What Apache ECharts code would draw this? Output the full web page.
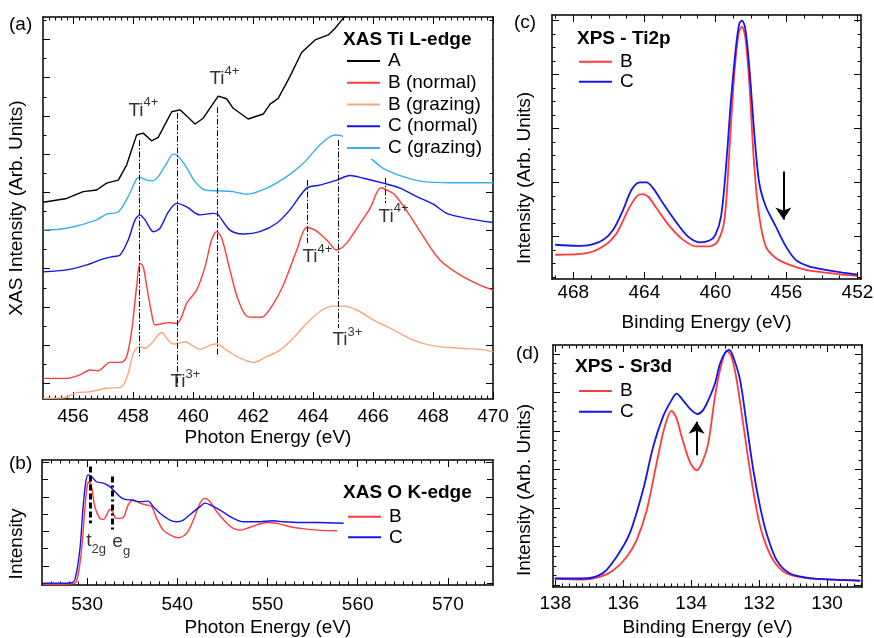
<!DOCTYPE html>
<html>
<head>
<meta charset="utf-8">
<script src="https://cdn.jsdelivr.net/npm/echarts@6/dist/echarts.min.js"></script>
<style>
  html, body { margin: 0; padding: 0; background: #fff; }
  #main { width: 874px; height: 638px; }
</style>
</head>
<body>
<div id="main"></div>
<script>
const FONT = '"Liberation Sans", Arial, Helvetica, sans-serif';

// ---------- (a) XAS Ti L-edge: [photon energy (eV), intensity (arb., offset)] ----------
const tiA = [[455.01,5.15],[455.79,5.25],[456.34,5.43],[456.79,5.47],[457.12,5.65],[457.51,5.73],
  [457.79,6.13],[458.12,6.91],[458.34,6.96],[458.62,6.76],[458.84,6.85],[459.29,7.52],[459.57,7.57],
  [460.07,7.20],[460.34,7.35],[460.84,7.93],[461.12,7.86],[461.34,7.61],[461.84,7.33],[462.34,7.46],
  [462.57,7.72],[462.84,7.87],[463.23,8.44],[463.62,9.07],[464.07,9.40],[464.51,9.53],[464.73,9.70],
  [465.01,9.97],[465.23,10.2]];
const tiBNormal = [[455.01,0.54],[455.79,0.54],[456.23,0.63],[456.57,0.76],[456.84,0.74],[457.23,0.96],
  [457.62,0.96],[457.79,1.11],[457.96,1.81],[458.12,2.94],[458.23,3.55],[458.34,3.46],[458.46,2.94],
  [458.62,2.24],[458.73,1.94],[458.9,1.96],[459.18,2.00],[459.46,1.98],[459.62,2.15],[459.79,2.51],
  [460.12,2.85],[460.4,3.46],[460.62,4.16],[460.79,4.38],[460.96,4.21],[461.23,3.38],[461.51,2.59],
  [461.84,2.15],[462.29,2.14],[462.62,2.42],[463.01,2.98],[463.46,3.90],[463.79,4.49],[464.07,4.42],
  [464.46,4.16],[464.79,3.90],[465.12,4.08],[465.57,4.60],[465.9,4.99],[466.26,5.53],[466.46,5.47],
  [466.73,5.34],[467.18,4.86],[467.68,4.25],[468.23,3.64],[468.9,3.25],[469.57,2.98],[470.01,2.85]];
const tiBGrazing = [[455.01,0.02],[455.68,0.03],[456.12,0.16],[456.57,0.19],[457.12,0.28],[457.62,0.32],
  [457.84,0.67],[458.01,1.20],[458.23,1.37],[458.4,1.33],[458.62,1.46],[458.79,1.63],[458.96,1.74],
  [459.12,1.59],[459.34,1.44],[459.57,1.47],[459.73,1.50],[459.96,1.41],[460.23,1.30],[460.57,1.41],
  [460.79,1.44],[461.12,1.28],[461.57,1.07],[462.01,0.96],[462.46,1.11],[462.9,1.28],[463.34,1.59],
  [463.79,1.98],[464.23,2.29],[464.68,2.43],[465.01,2.43],[465.46,2.33],[466.01,2.07],[466.68,1.81],
  [467.34,1.54],[468.01,1.39],[468.9,1.33],[469.57,1.30],[470.01,1.24]];
const tiCNormal = [[455.01,3.33],[455.79,3.38],[456.46,3.51],[456.9,3.64],[457.34,3.73],[457.57,3.77],
  [457.84,4.16],[458.07,4.69],[458.23,4.82],[458.4,4.69],[458.68,4.38],[458.9,4.47],[459.18,4.90],
  [459.46,5.12],[459.79,5.03],[460.23,4.82],[460.68,4.86],[460.84,4.82],[461.23,4.42],[461.68,4.32],
  [462.23,4.38],[462.79,4.60],[463.23,4.95],[463.79,5.52],[464.23,5.60],[464.79,5.73],[465.23,5.85],
  [465.68,5.78],[466.34,5.65],[466.9,5.52],[467.46,5.30],[468.01,5.10],[468.46,4.86],[469.12,4.73],
  [470.01,4.62]];
const tiCGrazing = [[455.01,4.42],[455.79,4.47],[456.79,4.69],[457.12,4.84],[457.51,4.90],[457.84,5.30],
  [458.12,5.76],[458.23,5.80],[458.46,5.73],[458.64,5.71],[458.84,5.82],[459.12,6.17],[459.34,6.41],
  [459.46,6.39],[459.73,6.13],[460.07,5.69],[460.4,5.47],[460.79,5.45],[461.34,5.43],[461.79,5.36],
  [462.46,5.52],[463.12,5.82],[463.68,6.17],[464.23,6.65],[464.73,6.91],[464.96,6.89],[465.4,6.70],
  [465.96,6.28],[466.34,6.04],[467.01,5.82],[467.68,5.69],[468.57,5.66],[470.01,5.66]];
// peak guides: [energy, upper end, lower end]
const tiGuides = [[458.2,6.78,1.13],[459.46,7.49,0.32],[460.81,7.64,1.10],[463.8,5.73,4.08],
  [464.84,6.78,1.86],[466.42,5.79,5.13]];
const tiIons = [['4+',457.83,7.54],['4+',460.53,8.36],['4+',466.17,4.76],['4+',463.63,3.70],
  ['3+',464.63,1.53],['3+',459.23,0.43]];
const tiXLabels = [456,458,460,462,464,466,468,470];

// ---------- (b) XAS O K-edge ----------
const oB = [[525.11,0.02],[528.08,0.03],[528.82,0.10],[529.38,1.01],[529.74,2.17],[530.0,2.85],
  [530.22,2.99],[530.49,2.85],[530.86,2.27],[531.41,1.93],[531.86,1.90],[532.16,2.03],[532.52,2.19],
  [532.82,2.12],[533.19,1.93],[533.63,1.93],[534.08,1.98],[534.56,2.32],[535.11,2.46],[535.86,2.37],
  [536.6,2.32],[537.16,2.27],[537.71,1.93],[538.44,1.59],[539.19,1.45],[540.11,1.37],[541.04,1.50],
  [541.78,1.88],[542.52,2.37],[543.08,2.51],[543.63,2.41],[544.38,2.12],[545.49,1.79],[546.22,1.64],
  [546.97,1.59],[547.71,1.64],[548.82,1.74],[549.93,1.81],[551.04,1.79],[552.16,1.71],[553.63,1.64],
  [555.49,1.59],[557.71,1.57]];
const oC = [[525.11,0.05],[528.08,0.06],[528.63,0.14],[529.19,1.01],[529.56,2.27],[529.86,2.99],
  [530.11,3.19],[530.49,3.14],[531.04,2.99],[531.78,2.95],[532.52,2.85],[533.08,2.70],[533.63,2.56],
  [534.19,2.48],[534.93,2.46],[535.86,2.41],[536.78,2.43],[537.33,2.27],[538.08,2.08],[539.19,1.88],
  [539.93,1.83],[540.67,1.88],[541.6,2.08],[542.52,2.27],[543.08,2.37],[543.63,2.32],[544.74,2.17],
  [546.22,1.93],[547.33,1.83],[548.82,1.83],[550.67,1.86],[551.78,1.83],[553.63,1.81],[555.49,1.81],
  [558.44,1.79]];
const oXLabels = [530,540,550,560,570];

// ---------- (c) XPS Ti2p: [binding energy (eV), intensity] ----------
const ti2pB = [[469.02,0.90],[467.24,0.96],[466.31,1.21],[465.56,1.70],[464.91,2.57],[464.44,3.06],
  [464.16,3.15],[463.79,3.06],[463.32,2.63],[462.57,1.95],[461.83,1.46],[461.08,1.21],[460.33,1.21],
  [459.87,1.39],[459.49,2.20],[459.21,4.79],[458.93,7.63],[458.69,9.11],[458.5,9.36],[458.32,8.99],
  [458.09,7.26],[457.81,4.17],[457.53,2.32],[457.16,1.21],[456.6,0.78],[455.85,0.53],[454.91,0.34],
  [453.79,0.24],[452.86,0.16],[452.02,0.12]];
const ti2pC = [[469.02,1.27],[467.8,1.23],[467.05,1.27],[466.31,1.46],[465.75,1.83],[465.19,2.57],
  [464.72,3.31],[464.25,3.58],[463.88,3.58],[463.51,3.37],[462.95,2.81],[462.2,2.10],[461.55,1.58],
  [460.89,1.36],[460.33,1.43],[460.0,1.64],[459.68,2.32],[459.4,4.17],[459.12,6.64],[458.84,8.61],
  [458.65,9.48],[458.5,9.58],[458.32,9.30],[458.09,7.87],[457.81,5.41],[457.53,3.56],[457.16,2.69],
  [456.6,1.95],[456.03,1.21],[455.47,0.71],[454.73,0.47],[453.79,0.34],[452.86,0.24],[452.02,0.16]];
const ti2pArrow = [456.17, 3.99, 2.21];
const ti2pXLabels = [468,464,460,456,452];

// ---------- (d) XPS Sr3d ----------
const sr3dB = [[138.02,0.22],[137.19,0.19],[136.69,0.26],[136.3,0.43],[135.9,0.78],[135.61,1.21],
  [135.31,1.99],[135.02,3.21],[134.78,4.16],[134.58,4.57],[134.43,4.37],[134.28,3.90],[134.04,3.25],
  [133.84,3.03],[133.69,3.21],[133.5,3.72],[133.3,4.94],[133.15,5.63],[132.95,6.13],[132.81,5.97],
  [132.66,5.37],[132.47,4.24],[132.27,3.03],[132.07,1.99],[131.88,1.30],[131.58,0.69],[131.19,0.35],
  [130.6,0.23],[129.81,0.19],[129.02,0.17]];
const sr3dC = [[138.02,0.22],[137.19,0.22],[136.6,0.36],[136.2,0.78],[135.81,1.39],[135.42,2.51],
  [135.12,3.64],[134.83,4.42],[134.58,4.85],[134.43,5.02],[134.28,4.89],[134.04,4.63],[133.82,4.49],
  [133.65,4.59],[133.45,4.94],[133.3,5.28],[133.15,5.80],[133.0,6.08],[132.88,6.15],[132.76,5.97],
  [132.56,5.37],[132.37,4.24],[132.17,3.03],[131.97,2.08],[131.78,1.39],[131.48,0.69],[131.09,0.35],
  [130.5,0.23],[129.81,0.19],[129.02,0.16]];
const sr3dArrow = [133.84, 3.42, 4.29];
const sr3dXLabels = [138,136,134,132,130];

// ---------- colours ----------
const RED = '#ff3b3b', BLUE = '#1414f0', SKY = '#3aaeea', SALMON = '#f9a57c', BLACK = '#000';

// evenly spaced tick positions, leaving out the ones already taken by major ticks
function steps(from, to, step, skip) {
  const out = [];
  const n = Math.round((to - from) / step);
  for (let i = 0; i <= n; i++) {
    const v = +(from + i * step).toFixed(4);
    if (!skip || !skip.some(s => Math.abs(s - v) < 1e-6)) out.push(v);
  }
  return out;
}

const xAxes = [], yAxes = [];
function tickAxis(grid, range, pos, ticks, len, withLine, labels, margin) {
  return {
    type: 'value', gridIndex: grid, position: pos,
    min: range[0], max: range[1], inverse: !!range[2],
    splitLine: { show: false },
    axisLine: { show: withLine, onZero: false, lineStyle: { color: BLACK, width: 1.5 } },
    axisTick: { show: true, inside: true, length: len, customValues: ticks,
                lineStyle: { color: BLACK, width: 1 } },
    axisLabel: labels
      ? { show: true, customValues: labels, margin: margin, fontSize: 19, fontFamily: FONT, color: BLACK,
          hideOverlap: false }
      : { show: false },
    axisPointer: { show: false },
    silent: true
  };
}
// boxed frame: ticks on all four sides, labels on the bottom only
function addFrame(grid, x, y) {
  const xi = xAxes.length, yi = yAxes.length;
  const yMinorLen = y.minorLen || 3.5;
  xAxes.push(tickAxis(grid, x.range, 'bottom', x.major, 7, true, x.labels, x.margin));
  xAxes.push(tickAxis(grid, x.range, 'top', x.major, 7, true));
  xAxes.push(tickAxis(grid, x.range, 'bottom', x.minor, 3.5, false));
  xAxes.push(tickAxis(grid, x.range, 'top', x.minor, 3.5, false));
  yAxes.push(tickAxis(grid, y.range, 'left', y.major, 7, true));
  yAxes.push(tickAxis(grid, y.range, 'right', y.major, 7, true));
  yAxes.push(tickAxis(grid, y.range, 'left', y.minor, yMinorLen, false));
  yAxes.push(tickAxis(grid, y.range, 'right', y.minor, yMinorLen, false));
  return { xi, yi };
}

const grids = [
  { left: 43, top: 17, width: 450, height: 382 },
  { left: 42, top: 460, width: 451, height: 125 },
  { left: 552, top: 15, width: 309, height: 264 },
  { left: 553, top: 345, width: 309, height: 242 }
].map(g => Object.assign(g, { containLabel: false, outerBoundsMode: 'none' }));

const axA = addFrame(0,
  { range: [455, 470], major: tiXLabels, minor: steps(455.2, 469.8, 0.2, tiXLabels), labels: tiXLabels, margin: 8 },
  { range: [0, 10], major: steps(0.41, 9.41, 1), minor: steps(0.91, 9.91, 1) });
const axB = addFrame(1,
  { range: [525, 575], major: oXLabels, minor: steps(526, 574, 1, oXLabels), labels: oXLabels, margin: 10 },
  { range: [0, 3.62], major: steps(0.55, 3.55, 1), minor: steps(0.05, 3.05, 1), minorLen: 6 });
const axC = addFrame(2,
  { range: [451.8, 469.2, true], major: ti2pXLabels, minor: steps(452, 469, 1, ti2pXLabels), labels: ti2pXLabels, margin: 4 },
  { range: [0, 9.79], major: steps(1.58, 9.58, 2), minor: steps(0.08, 9.58, 0.5, steps(1.58, 9.58, 2)) });
const axD = addFrame(3,
  { range: [128.97, 138.07, true], major: sr3dXLabels, minor: steps(129, 138, 0.2, sr3dXLabels), labels: sr3dXLabels, margin: 7 },
  { range: [0, 6.28], major: steps(0.05, 6.05, 1), minor: steps(0.05, 6.05, 0.25, steps(0.05, 6.05, 1)) });

const series = [];
function curve(name, data, color, width, ax, smooth, extra) {
  series.push(Object.assign({
    type: 'line', name: name, data: data,
    xAxisIndex: ax.xi, yAxisIndex: ax.yi,
    symbol: 'none', smooth: smooth, clip: true, silent: true, z: 2,
    lineStyle: { color: color, width: width }, itemStyle: { color: color }
  }, extra || {}));
}
function markLines(lines, symbol, size) {
  return {
    silent: true, animation: false, symbol: symbol, symbolSize: size,
    label: { show: false }, emphasis: { disabled: true },
    data: lines.map(l => [{ coord: [l.x, l.from], lineStyle: l.style }, { coord: [l.x, l.to] }])
  };
}

const dashDot = { color: BLACK, width: 1, type: [6, 2, 1.5, 2] };

// (a)
curve('A', tiA, BLACK, 1.4, axA, false, {
  markLine: markLines(tiGuides.map(g => ({ x: g[0], from: g[1], to: g[2], style: dashDot })), ['none', 'none'], 0)
});
curve('B (normal)', tiBNormal, RED, 1.4, axA, 0.3);
curve('B (grazing)', tiBGrazing, SALMON, 1.4, axA, 0.3);
curve('C (normal)', tiCNormal, BLUE, 1.4, axA, 0.3);
curve('C (grazing)', tiCGrazing, SKY, 1.4, axA, 0.3);

const richIon = {
  t: { fontSize: 19, fontFamily: FONT, color: BLACK, verticalAlign: 'bottom' },
  s: { fontSize: 13, fontFamily: FONT, color: BLACK, verticalAlign: 'bottom', padding: [0, 0, 11, 0] }
};
series.push({
  type: 'scatter', xAxisIndex: axA.xi, yAxisIndex: axA.yi, silent: true,
  symbolSize: 1, itemStyle: { color: 'rgba(0,0,0,0)' },
  data: tiIons.map(d => ({ value: [d[1], d[2]], label: { formatter: '{t|Ti}{s|' + d[0] + '}' } })),
  label: { show: true, position: 'right', distance: 0, offset: [0, -3], rich: richIon }
});

// (b)
curve('B', oB, RED, 1.4, axB, 0.3, {
  markLine: markLines([
    { x: 530.38, from: 3.43, to: 1.79, style: { color: BLACK, width: 3, type: [6, 3] } },
    { x: 532.82, from: 3.14, to: 1.59, style: { color: BLACK, width: 3, type: [6, 3, 2, 3] } }
  ], ['none', 'none'], 0)
});
curve('C', oC, BLUE, 1.4, axB, 0.3);
series.push({
  type: 'scatter', xAxisIndex: axB.xi, yAxisIndex: axB.yi, silent: true,
  symbolSize: 1, itemStyle: { color: 'rgba(0,0,0,0)' },
  data: [
    { value: [529.86, 1.20], label: { formatter: '{m|t}{u|2g}' } },
    { value: [532.74, 1.16], label: { formatter: '{m|e}{u|g}' } }
  ],
  label: { show: true, position: 'right', distance: 0, rich: {
    m: { fontSize: 19, fontFamily: FONT, color: BLACK, verticalAlign: 'bottom', padding: [0, 0, 6, 0] },
    u: { fontSize: 13, fontFamily: FONT, color: BLACK, verticalAlign: 'bottom' }
  } }
});

// (c)
curve('B', ti2pB, RED, 1.8, axC, 0.3);
curve('C', ti2pC, BLUE, 1.8, axC, 0.3, {
  markLine: markLines([{ x: ti2pArrow[0], from: ti2pArrow[1], to: ti2pArrow[2],
    style: { color: BLACK, width: 2, type: 'solid' } }], ['none', 'arrow'], 12)
});

// (d)
curve('B', sr3dB, RED, 1.8, axD, 0.3);
curve('C', sr3dC, BLUE, 1.8, axD, 0.3, {
  markLine: markLines([{ x: sr3dArrow[0], from: sr3dArrow[1], to: sr3dArrow[2],
    style: { color: BLACK, width: 2, type: 'solid' } }], ['none', 'arrow'], 12)
});

function legend(names, left, top, lineHeight, extra) {
  return Object.assign({
    data: names, orient: 'vertical', left: left, top: top, padding: 0, itemGap: 0,
    itemWidth: 33, itemHeight: 2, icon: 'rect', selectedMode: false,
    textStyle: { fontSize: 19, fontFamily: FONT, color: BLACK, lineHeight: lineHeight, padding: [0, 0, 0, 3] }
  }, extra || {});
}

function txt(text, x, y, opts) {
  opts = opts || {};
  return {
    type: 'text', x: x, y: y, rotation: opts.rot || 0, z: 100, silent: true,
    style: {
      text: text, fill: BLACK,
      font: (opts.bold ? 'bold ' : '') + '19px ' + FONT,
      textAlign: opts.align || 'left', textVerticalAlign: 'middle'
    }
  };
}

const option = {
  animation: false,
  backgroundColor: '#fff',
  grid: grids,
  xAxis: xAxes,
  yAxis: yAxes,
  series: series,
  legend: [
    legend(['A', 'B (normal)', 'B (grazing)', 'C (normal)', 'C (grazing)'], 343, 25, 21.75,
      { padding: [25, 10, 0, 4], backgroundColor: '#fff' }),
    legend(['B', 'C'], 348, 506.4, 20.6),
    legend(['B', 'C'], 579, 51.7, 20),
    legend(['B', 'C'], 579, 380.6, 20.7)
  ],
  graphic: [
    txt('(a)', 9, 25), txt('(b)', 9, 464), txt('(c)', 514, 23), txt('(d)', 516, 354),
    txt('XAS Ti L-edge', 343, 40, { bold: true }),
    txt('XAS O K-edge', 343, 493, { bold: true }),
    txt('XPS - Ti2p', 577, 39, { bold: true }),
    txt('XPS - Sr3d', 575, 367, { bold: true }),
    txt('Photon Energy (eV)', 268, 438, { align: 'center' }),
    txt('Photon Energy (eV)', 268, 628, { align: 'center' }),
    txt('Binding Energy (eV)', 706.5, 323, { align: 'center' }),
    txt('Binding Energy (eV)', 707.5, 628, { align: 'center' }),
    txt('XAS Intensity (Arb. Units)', 17, 208, { align: 'center', rot: Math.PI / 2 }),
    txt('Intensity', 17, 544, { align: 'center', rot: Math.PI / 2 }),
    txt('Intensity (Arb. Units)', 525, 178, { align: 'center', rot: Math.PI / 2 }),
    txt('Intensity (Arb. Units)', 525, 490, { align: 'center', rot: Math.PI / 2 })
  ]
};

const chart = echarts.init(document.getElementById('main'), null, { renderer: 'canvas' });
chart.setOption(option);
</script>
</body>
</html>
